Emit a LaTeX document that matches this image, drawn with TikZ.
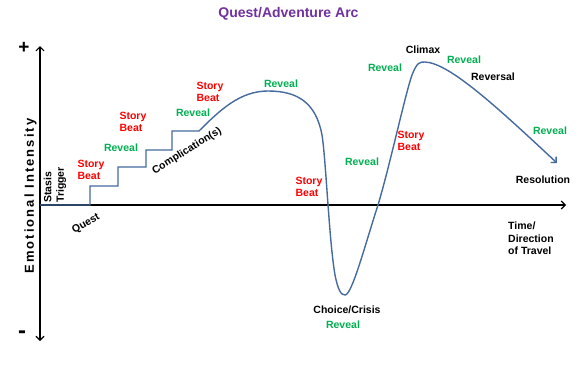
\documentclass[tikz,border=0pt]{standalone}
\usepackage{fontspec}
\setmainfont{Liberation Sans}
\usetikzlibrary{arrows.meta}
\definecolor{curveblue}{RGB}{68,106,158}
\definecolor{revgreen}{RGB}{0,176,80}
\definecolor{beatred}{RGB}{255,0,0}
\definecolor{titlepurple}{RGB}{112,48,160}
\begin{document}
\begin{tikzpicture}[x=1pt,y=-1pt,
  lbl/.style={font=\fontsize{10.5}{12.5}\selectfont\bfseries, inner sep=0pt, align=left},
  beat/.style={lbl,text=beatred},
  reveal/.style={lbl,text=revgreen},
  blk/.style={lbl,text=black},
  axis/.style={line width=1.1pt, black},
  tip/.style={-{Straight Barb[length=4pt,width=8pt]}},
  arc/.style={line width=1.4pt, curveblue}]
\useasboundingbox (0,0) rectangle (579,367);
% title
\node[font=\fontsize{14}{16}\selectfont\bfseries, text=titlepurple, inner sep=0pt] (title) at (288.5,14) {Quest/Adventure Arc};
% axes
\coordinate (ytop) at (40,46);
\coordinate (ybot) at (40,341);
\coordinate (origin) at (40,205);
\coordinate (xend) at (566,205);
\draw[axis, {Straight Barb[length=4pt,width=8pt]}-{Straight Barb[length=4pt,width=8pt]}] (ybot) -- (ytop);
\draw[axis, tip] (origin) -- (xend);
\node[font=\fontsize{19}{21}\selectfont\bfseries, inner sep=0pt] (plus) at (24,48) {+};
\node[font=\fontsize{24}{26}\selectfont\bfseries, inner sep=0pt] (minus) at (22,335) {-};
\node[font=\fontsize{13}{15}\selectfont\bfseries\addfontfeatures{LetterSpace=16}, rotate=90, inner sep=0pt] (ylab) at (30.5,196) {Emotional Intensity};
% curve
\coordinate (s0) at (90,205);
\coordinate (s1) at (118,186);
\coordinate (s2) at (146,167);
\coordinate (s3) at (172,150);
\coordinate (s4) at (199,131);
\coordinate (peak1) at (268,91);
\coordinate (low) at (345,295);
\coordinate (cross) at (378,205);
\coordinate (peak2) at (425,62);
\coordinate (endpt) at (557,163);
\draw[arc, tip, line join=miter] (origin) -- (s0) |- (s1) |- (s2) |- (s3) |- (s4)
  .. controls (220,110) and (240,91) .. (peak1)
  .. controls (298,91) and (316,103) .. (322,135)
  .. controls (326,160) and (329,240) .. (335,275)
  .. controls (338,290) and (341,295) .. (low)
  .. controls (352,295) and (365,245) .. (cross)
  .. controls (390,165) and (405,95) .. (412,75)
  .. controls (417,62) and (420,62) .. (peak2)
  .. controls (450,63) and (500,110) .. (endpt);
% labels
\node[blk, rotate=90, anchor=north west] (stasis) at (43.5,203) {Stasis\\Trigger};
\node[blk, rotate=30] (quest) at (86,224) {Quest};
\node[blk, rotate=32] (compl) at (187,151) {Complication(s)};
\node[beat] (b1) at (91,170) {Story\\Beat};
\node[reveal] (r1) at (121,148) {Reveal};
\node[beat] (b2) at (133,122) {Story\\Beat};
\node[reveal] (r2) at (193,113) {Reveal};
\node[beat] (b3) at (210,92) {Story\\Beat};
\node[reveal] (r3) at (281,84) {Reveal};
\node[beat] (b4) at (309,187) {Story\\Beat};
\node[reveal] (r4) at (362,162) {Reveal};
\node[beat] (b5) at (411,141) {Story\\Beat};
\node[reveal] (r5) at (385,68) {Reveal};
\node[blk] (climax) at (423,50) {Climax};
\node[reveal] (r6) at (464,60) {Reveal};
\node[blk] (reversal) at (493,77) {Reversal};
\node[reveal] (r7) at (550,131) {Reveal};
\node[blk] (resol) at (543,180) {Resolution};
\node[blk, anchor=north west] (time) at (508,222) {Time/\\Direction\\of Travel};
\node[blk] (choice) at (347,310) {Choice/Crisis};
\node[reveal] (r8) at (343,325) {Reveal};
\end{tikzpicture}
\end{document}
